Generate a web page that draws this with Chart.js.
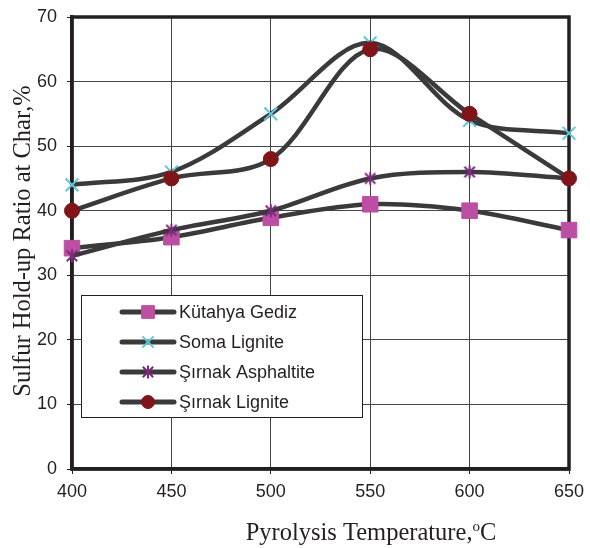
<!DOCTYPE html>
<html>
<head>
<meta charset="utf-8">
<script src="https://cdn.jsdelivr.net/npm/chart.js@4"></script>
<style>
  html, body { margin: 0; padding: 0; background: #fff; }
  #wrap { position: relative; width: 590px; height: 548px; }
</style>
</head>
<body>
<div id="wrap"><canvas id="chart" width="590" height="548"></canvas></div>
<script>
// values (sulfur hold-up ratio, %)
const temps = ['400', '450', '500', '550', '600', '650'];
const kutahyaGediz = [34.2, 35.9, 38.9, 41, 40, 37];
const somaLignite = [44, 46, 55, 66, 54, 52];
const sirnakAsphaltite = [33, 37, 40, 45, 46, 45];
const sirnakLignite = [40, 45, 48, 65, 55, 45];
const seriesNames = ['Kütahya Gediz', 'Soma Lignite', 'Şırnak Asphaltite', 'Şırnak Lignite'];

const INK = '#231f20';
const LINE = '#3a3a3a';
const SANS = '"Liberation Sans", Arial, sans-serif';
const SERIF = '"Liberation Serif", "Times New Roman", serif';

// Excel style asterisk marker: X plus a vertical bar
function asteriskMarker(size, color) {
  const c = document.createElement('canvas');
  c.width = size; c.height = size;
  const g = c.getContext('2d');
  const m = size / 2, r = size / 2 - 1.5;
  g.strokeStyle = color;
  g.lineWidth = 2;
  g.beginPath();
  g.moveTo(m - r * 0.8, m - r * 0.8); g.lineTo(m + r * 0.8, m + r * 0.8);
  g.moveTo(m + r * 0.8, m - r * 0.8); g.lineTo(m - r * 0.8, m + r * 0.8);
  g.moveTo(m, m - r); g.lineTo(m, m + r);
  g.stroke();
  return c;
}
const starImg = asteriskMarker(16, '#7b2a7e');

const markers = [
  { pointStyle: 'rect', radius: 11, fill: '#bd4fa2', stroke: '#bd4fa2', width: 1 },
  { pointStyle: 'crossRot', radius: 9, fill: '#5fc8d8', stroke: '#5fc8d8', width: 2 },
  { pointStyle: starImg, radius: 8, fill: '#7b2a7e', stroke: '#7b2a7e', width: 2 },
  { pointStyle: 'circle', radius: 7.5, fill: '#7f1518', stroke: '#7f1518', width: 1 },
];

function makeDataset(i, data) {
  const m = markers[i];
  return {
    label: seriesNames[i],
    data: data,
    borderColor: LINE,
    borderWidth: 4.5,
    tension: 0.33,
    pointStyle: m.pointStyle,
    pointRadius: m.radius,
    pointBackgroundColor: m.fill,
    pointBorderColor: m.stroke,
    pointBorderWidth: m.width,
    clip: false,
    order: 4 - i, // later series drawn on top, like the original
  };
}

function zeroPadding(scale) {
  scale.paddingTop = 0; scale.paddingBottom = 0;
  scale.paddingLeft = 0; scale.paddingRight = 0;
}

const framePlugin = {
  id: 'frame',
  beforeDatasetsDraw(chart) {
    const { ctx, chartArea: a } = chart;
    ctx.save();
    ctx.strokeStyle = INK;
    ctx.lineWidth = 3.5;
    ctx.strokeRect(a.left, a.top, a.right - a.left, a.bottom - a.top);
    ctx.restore();
  },
};

const decorPlugin = {
  id: 'decor',
  afterDraw(chart) {
    const ctx = chart.ctx;
    ctx.save();

    // legend box
    const bx = 81, by = 295, bw = 281, bh = 122;
    ctx.fillStyle = '#fff';
    ctx.fillRect(bx, by, bw, bh);
    ctx.strokeStyle = INK;
    ctx.lineWidth = 1;
    ctx.strokeRect(bx + 0.5, by + 0.5, bw, bh);
    seriesNames.forEach((name, i) => {
      const y = 312 + i * 30;
      ctx.strokeStyle = LINE;
      ctx.lineWidth = 5;
      ctx.lineCap = 'round';
      ctx.beginPath();
      ctx.moveTo(122, y); ctx.lineTo(174, y);
      ctx.stroke();
      const m = markers[i];
      ctx.fillStyle = m.fill;
      ctx.strokeStyle = m.stroke;
      ctx.lineWidth = m.width;
      ctx.lineCap = 'butt';
      Chart.helpers.drawPoint(ctx, { pointStyle: m.pointStyle, radius: i === 0 ? 9 : m.radius - 1, rotation: 0, borderWidth: m.width }, 148, y);
      ctx.fillStyle = INK;
      ctx.font = '18px ' + SANS;
      ctx.textAlign = 'left';
      ctx.textBaseline = 'middle';
      ctx.fillText(name, 179, y + 1);
    });

    // axis titles
    ctx.fillStyle = INK;
    ctx.font = '24.5px ' + SERIF;
    ctx.textBaseline = 'middle';
    ctx.textAlign = 'center';
    ctx.save();
    ctx.translate(24, 241);
    ctx.rotate(-Math.PI / 2);
    ctx.fillText('Sulfur Hold-up Ratio at Char,%', 0, 0);
    ctx.restore();

    const main = 'Pyrolysis Temperature,';
    ctx.textBaseline = 'alphabetic';
    ctx.textAlign = 'left';
    const w1 = ctx.measureText(main).width;
    ctx.font = '15px ' + SERIF;
    const w2 = ctx.measureText('o').width;
    ctx.font = '24.5px ' + SERIF;
    const w3 = ctx.measureText('C').width;
    let x = 371 - (w1 + w2 + w3) / 2;
    const base = 540;
    ctx.fillText(main, x, base);
    x += w1;
    ctx.font = '15px ' + SERIF;
    ctx.fillText('o', x, base - 9);
    x += w2;
    ctx.font = '24.5px ' + SERIF;
    ctx.fillText('C', x, base);
    ctx.restore();
  },
};

new Chart(document.getElementById('chart'), {
  type: 'line',
  data: {
    labels: temps,
    datasets: [
      makeDataset(0, kutahyaGediz),
      makeDataset(1, somaLignite),
      makeDataset(2, sirnakAsphaltite),
      makeDataset(3, sirnakLignite),
    ],
  },
  options: {
    responsive: false,
    animation: false,
    layout: { padding: { left: 0, top: 17, right: 21, bottom: 0 } },
    plugins: { legend: { display: false }, tooltip: { enabled: false } },
    scales: {
      x: {
        offset: false,
        grid: { color: '#444', lineWidth: 1, tickLength: 5, tickColor: INK },
        border: { color: INK, width: 3.5 },
        ticks: {
          color: INK, padding: 7, maxRotation: 0, autoSkip: false,
          font: { family: SANS, size: 18 },
        },
        afterFit(scale) { scale.height = 79; zeroPadding(scale); },
      },
      y: {
        min: 0, max: 70,
        grid: { color: '#444', lineWidth: 1, tickLength: 5, tickColor: INK },
        border: { color: INK, width: 3.5 },
        ticks: {
          stepSize: 10, color: INK, padding: 10,
          font: { family: SANS, size: 18 },
        },
        afterFit(scale) { scale.width = 72; zeroPadding(scale); },
      },
    },
  },
  plugins: [framePlugin, decorPlugin],
});
</script>
</body>
</html>
